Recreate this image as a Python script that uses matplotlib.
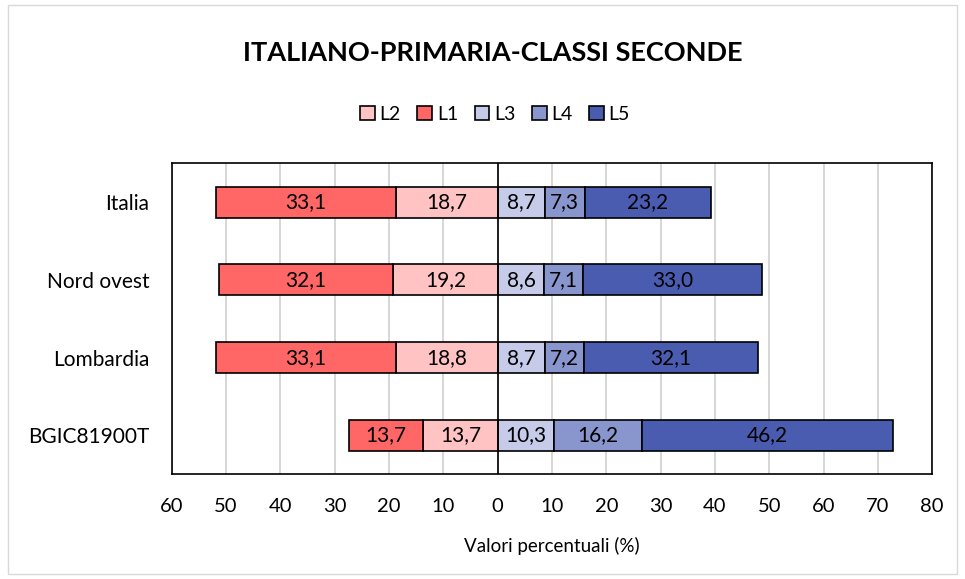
import matplotlib
matplotlib.use("Agg")
import matplotlib.pyplot as plt
from matplotlib.patches import Rectangle, Patch
import numpy as np

plt.rcParams['font.family'] = ['Lato', 'DejaVu Sans']

categories = ["Italia", "Nord ovest", "Lombardia", "BGIC81900T"]
L1 = [33.1, 32.1, 33.1, 13.7]
L2 = [18.7, 19.2, 18.8, 13.7]
L3 = [8.7, 8.6, 8.7, 10.3]
L4 = [7.3, 7.1, 7.2, 16.2]
L5 = [23.2, 33.0, 32.1, 46.2]
ticks = list(range(-60, 81, 10))
tick_labels = [str(abs(t)) for t in ticks]

colors = {"L2": "#FFC3C3", "L1": "#FF6666", "L3": "#C5CBE8", "L4": "#8896CD", "L5": "#4A5CB0"}

fig = plt.figure(figsize=(9.65, 5.79), dpi=100)
fig.patches.append(Rectangle((0.008, 0.008), 0.984, 0.984, transform=fig.transFigure,
                             fill=False, edgecolor="#D9D9D9", linewidth=1))
ax = fig.add_axes([0.178, 0.181, 0.788, 0.537])

y = np.arange(len(categories))
h = 0.4

def seg(left, width, color):
    bars = ax.barh(y, width, left=left, height=h, color=color, edgecolor="black", linewidth=1.2, zorder=3)
    for yi, l, w in zip(y, left, width):
        ax.text(l + w / 2, yi, f"{abs(w):.1f}".replace(".", ","), ha="center", va="center",
                fontsize=15, color="black", zorder=4)
    return bars

L2n = [-v for v in L2]
L1left = [-(a + b) for a, b in zip(L1, L2)]
seg(L2n, L2, colors["L2"])
seg(L1left, L1, colors["L1"])
seg([0] * 4, L3, colors["L3"])
seg(L3, L4, colors["L4"])
L5left = [a + b for a, b in zip(L3, L4)]
seg(L5left, L5, colors["L5"])

ax.set_xlim(-60, 80)
ax.set_ylim(len(categories) - 0.5, -0.5)
ax.set_yticks(y)
ax.set_yticklabels(categories, fontsize=15)
ax.set_xticks(ticks)
ax.set_xticklabels(tick_labels, fontsize=14.5)
ax.tick_params(axis="x", length=0, pad=17)
ax.tick_params(axis="y", length=0, pad=16)
for t in ticks:
    ax.axvline(t, color="#D0D0D0", linewidth=1.2, zorder=1)
ax.axvline(0, color="black", linewidth=1.2, zorder=5)
for s in ax.spines.values():
    s.set_color("black")
    s.set_linewidth(1.2)
ax.set_xlabel("Valori percentuali (%)", fontsize=13.5, labelpad=16)

fig.text(0.511, 0.908, "ITALIANO-PRIMARIA-CLASSI SECONDE", ha="center", va="center",
         fontsize=19.5, fontweight="bold")

order = ["L2", "L1", "L3", "L4", "L5"]
handles = [Patch(facecolor=colors[k], edgecolor="black", linewidth=1.2) for k in order]
fig.legend(handles, order, loc="center", bbox_to_anchor=(0.513, 0.802), ncol=5, frameon=False,
           fontsize=14, handlelength=0.75, handleheight=0.75, handletextpad=0.25, columnspacing=0.85)

fig.savefig("out.png", dpi=100)
